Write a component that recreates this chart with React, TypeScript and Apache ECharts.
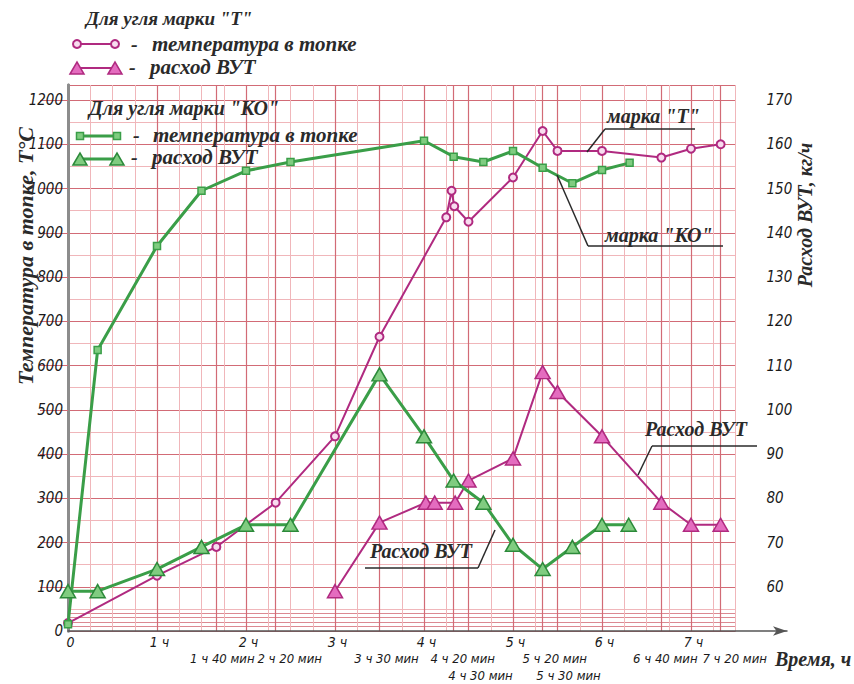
import React, { useEffect, useRef } from "react";
import * as echarts from "echarts";

// ---- data (time in hours) ----
const tempTTimes = [0, 1, 1.667, 2.333, 3, 3.5, 4.25, 4.31, 4.34, 4.5, 5, 5.333, 5.5, 6, 6.667, 7, 7.333];
const tempTValues = [18, 125, 190, 290, 440, 665, 935, 995, 960, 925, 1025, 1130, 1085, 1085, 1070, 1090, 1100];

const vutTTimes = [3, 3.5, 4.02, 4.12, 4.35, 4.5, 5, 5.333, 5.5, 6, 6.667, 7, 7.333];
const vutTValues = [59, 74.5, 79, 79, 79, 84, 89, 108.5, 104, 94, 79, 74, 74];

const tempKOTimes = [0, 0.333, 1, 1.5, 2, 2.5, 4, 4.333, 4.667, 5, 5.333, 5.667, 6, 6.31];
const tempKOValues = [15, 635, 870, 995, 1040, 1060, 1108, 1072, 1060, 1085, 1047, 1012, 1042, 1058];

const vutKOTimes = [0, 0.333, 1, 1.5, 2, 2.5, 3.5, 4, 4.333, 4.667, 5, 5.333, 5.667, 6, 6.3];
const vutKOValues = [59, 59, 64, 69, 74, 74, 108, 94, 84, 79, 69.5, 64, 69, 74, 74];

// ---- tick labels ----
const hourTicks = [0, 1, 2, 3, 4, 5, 6, 7];
const hourLabels = ["0", "1 ч", "2 ч", "3 ч", "4 ч", "5 ч", "6 ч", "7 ч"];
const row2Ticks = [1.6667, 2.3333, 3.5, 4.3333, 5.3333, 6.6667, 7.3333];
const row2Labels = ["1 ч 40 мин", "2 ч 20 мин", "3 ч 30 мин", "4 ч 20 мин", "5 ч 20 мин", "6 ч 40 мин", "7 ч 20 мин"];
const row3Ticks = [4.5, 5.5];
const row3Labels = ["4 ч 30 мин", "5 ч 30 мин"];
const bottomFineTicks = [10, 20, 30, 40];

// layout only: horizontal shift (px) of each time label off its tick
const row2Shift = [6, 14, 7, 9, 12, 4, 14];
const row3Shift = [12, 11];

const zip = (xs: number[], ys: number[]) => xs.map((x, i) => [x, ys[i]]);
const lookup = (ticks: number[], labels: string[]) => (v: number) => {
  const i = ticks.findIndex((t) => Math.abs(t - v) < 1e-3);
  return i >= 0 ? labels[i] : "";
};

const magenta = "#b02a80";
const pinkTri = "#e46cbf";
const green = "#3a9e48";
const greenFill = "#80cc80";
const gridLight = "#f0b6ba";
const gridDark = "#d26b76";
const axisGrey = "#8c8c8c";

const numFont = "'DejaVu Sans Condensed', 'Liberation Sans Narrow', sans-serif";
const serif = "'Liberation Serif', 'Times New Roman', serif";

const txt = (text: string, x: number, y: number, size = 17, extra: any = {}) => ({
  type: "text",
  x,
  y,
  style: {
    text,
    fill: "#2a2a2a",
    fontFamily: serif,
    fontStyle: "italic",
    fontWeight: "bold",
    fontSize: size,
    verticalAlign: "middle",
    ...extra,
  },
  z: 100,
});
const seg = (x1: number, y1: number, x2: number, y2: number, stroke = "#2a2a2a", lineWidth = 1.5) => ({
  type: "line",
  shape: { x1, y1, x2, y2 },
  style: { stroke, lineWidth },
  z: 100,
});
const tri = (x: number, y: number, fill: string, stroke: string) => ({
  type: "polygon",
  shape: { points: [[x - 7, y + 6], [x, y - 6], [x + 7, y + 6]] },
  style: { fill, stroke, lineWidth: 1.5 },
  z: 101,
});
const circ = (x: number, y: number) => ({
  type: "circle",
  shape: { cx: x, cy: y, r: 4 },
  style: { fill: "#f8dcef", stroke: magenta, lineWidth: 2 },
  z: 101,
});
const sq = (x: number, y: number) => ({
  type: "rect",
  shape: { x: x - 3.5, y: y - 3.5, width: 7, height: 7 },
  style: { fill: greenFill, stroke: green, lineWidth: 1.5 },
  z: 101,
});

const numLabel = {
  fontFamily: numFont,
  fontStyle: "italic",
  color: "#1a1a1a",
};

const labelAxis = (tick: number, label: string, margin: number, shift: number) => ({
  type: "value", gridIndex: 0, position: "bottom", min: 0, max: 7.5,
  axisLine: { show: false }, axisTick: { show: false, customValues: [tick] },
  axisLabel: {
    show: true, customValues: [tick], margin, formatter: () => label,
    showMinLabel: true, showMaxLabel: true, fontSize: 13, ...numLabel, padding: [0, 0, 0, shift * 2],
  },
  splitLine: { show: false },
});

export default function App() {
  const ref = useRef<HTMLDivElement>(null);
  useEffect(() => {
    if (!ref.current) return;
    const chart = echarts.init(ref.current, undefined, { renderer: "svg" });
    const option: any = {
      animation: false,
      backgroundColor: "#ffffff",
      grid: [
        { left: 68, top: 85, right: 118.5, bottom: 53 },
        { left: 68, top: 85, right: 67, bottom: 53 },
      ],
      xAxis: [
        {
          type: "value", gridIndex: 0, position: "bottom", min: 0, max: 7.5, interval: 0.25,
          axisLine: { show: false }, axisTick: { show: false }, axisLabel: { show: false },
          splitLine: { show: true, lineStyle: { color: gridLight, width: 1 } },
        },
        {
          type: "value", gridIndex: 0, position: "bottom", min: 0, max: 7.5,
          axisLine: { show: false },
          axisTick: { show: false, customValues: [...hourTicks, ...row2Ticks, ...row3Ticks] },
          axisLabel: {
            show: true, customValues: hourTicks, margin: 4, formatter: lookup(hourTicks, hourLabels),
            showMinLabel: true, showMaxLabel: true, fontSize: 14, ...numLabel, padding: [0, 0, 0, 5],
          },
          splitLine: { show: true, lineStyle: { color: gridDark, width: 1.2 } },
        },
        ...row2Ticks.map((t, i) => labelAxis(t, row2Labels[i], 21, row2Shift[i])),
        ...row3Ticks.map((t, i) => labelAxis(t, row3Labels[i], 38, row3Shift[i])),
        {
          type: "value", gridIndex: 1, position: "bottom", min: 0, max: 1,
          axisLine: { show: true, onZero: false, symbol: ["none", "arrow"], symbolSize: [7, 14], lineStyle: { color: "#555", width: 1.5 } },
          axisTick: { show: false }, axisLabel: { show: false }, splitLine: { show: false },
        },
      ],
      yAxis: [
        {
          type: "value", gridIndex: 0, position: "left", min: 0, max: 1234, interval: 50,
          axisLine: { show: false }, axisTick: { show: false }, axisLabel: { show: false },
          splitLine: { show: true, lineStyle: { color: gridLight, width: 1 } },
        },
        {
          type: "value", gridIndex: 0, position: "left", min: 0, max: 1234, interval: 100,
          axisLine: { show: true, lineStyle: { color: axisGrey, width: 3 } },
          axisTick: { show: false },
          axisLabel: {
            show: true, showMaxLabel: false, margin: 5, fontSize: 15, ...numLabel,
            formatter: (v: number) => String(v),
          },
          splitLine: { show: true, lineStyle: { color: gridDark, width: 1 } },
        },
        {
          type: "value", gridIndex: 0, position: "left", min: 0, max: 1234,
          axisLine: { show: false }, axisTick: { show: false, customValues: bottomFineTicks }, axisLabel: { show: false },
          splitLine: { show: true, lineStyle: { color: gridDark, width: 0.8 } },
        },
        {
          type: "value", gridIndex: 0, position: "right", offset: 28, min: 50, max: 173.4, interval: 10,
          axisLine: { show: true, lineStyle: { color: axisGrey, width: 3 } },
          axisTick: { show: true, inside: true, length: 28, lineStyle: { color: gridDark, width: 1 } },
          axisLabel: {
            show: true, showMinLabel: false, showMaxLabel: false, margin: 3, fontSize: 15, ...numLabel,
            formatter: (v: number) => String(v),
          },
          splitLine: { show: false },
        },
        { type: "value", gridIndex: 1, show: false, min: 0, max: 1 },
      ],
      series: [
        {
          name: "температура T", type: "line", xAxisIndex: 0, yAxisIndex: 1,
          data: zip(tempTTimes, tempTValues),
          symbol: "circle", symbolSize: 8,
          lineStyle: { color: magenta, width: 2 },
          itemStyle: { color: "#f8dcef", borderColor: magenta, borderWidth: 2 },
          z: 3,
        },
        {
          name: "расход T", type: "line", xAxisIndex: 0, yAxisIndex: 3,
          data: zip(vutTTimes, vutTValues),
          symbol: "triangle", symbolSize: [15, 13],
          lineStyle: { color: magenta, width: 2 },
          itemStyle: { color: pinkTri, borderColor: magenta, borderWidth: 1.5 },
          z: 3,
        },
        {
          name: "температура KO", type: "line", xAxisIndex: 0, yAxisIndex: 1,
          data: zip(tempKOTimes, tempKOValues),
          symbol: "rect", symbolSize: 7,
          lineStyle: { color: green, width: 3 },
          itemStyle: { color: greenFill, borderColor: green, borderWidth: 1.5 },
          z: 4,
        },
        {
          name: "расход KO", type: "line", xAxisIndex: 0, yAxisIndex: 3,
          data: zip(vutKOTimes, vutKOValues),
          symbol: "triangle", symbolSize: [15, 13],
          lineStyle: { color: green, width: 3 },
          itemStyle: { color: greenFill, borderColor: "#2c8a3a", borderWidth: 1.5 },
          z: 4,
        },
      ],
      graphic: [
        // legend "Т"
        txt('Для угля марки "Т"', 86, 18, 19),
        seg(77, 44, 115, 44, magenta, 2), circ(77, 44), circ(115, 44),
        txt("-", 131, 44, 20), txt("температура в топке", 152, 44, 21),
        seg(77, 68, 115, 68, magenta, 2), tri(77, 68, pinkTri, magenta), tri(115, 68, pinkTri, magenta),
        txt("-", 129, 67, 20), txt("расход ВУТ", 150, 67, 21),
        // legend "КО"
        txt('Для угля марки "КО"', 89, 108, 20),
        seg(80, 136, 117, 136, green, 3), sq(80, 136), sq(117, 136),
        txt("-", 133, 135, 20), txt("температура в топке", 153, 135, 21),
        seg(80, 159, 117, 159, green, 3), tri(80, 159, greenFill, "#2c8a3a"), tri(117, 159, greenFill, "#2c8a3a"),
        txt("-", 131, 157, 20), txt("расход ВУТ", 152, 157, 21),
        // annotations
        txt('марка "Т"', 607, 116, 20), seg(605, 129, 695, 129), seg(605, 129, 587, 152),
        txt('марка "КО"', 605, 235, 20), seg(588, 246, 723, 246), seg(588, 246, 557, 175),
        txt("Расход ВУТ", 645, 429, 20), seg(652, 446, 757, 446), seg(652, 446, 638, 475),
        txt("Расход ВУТ", 370, 551, 20), seg(365, 568, 478, 568), seg(478, 568, 495, 530),
        // axis names
        {
          type: "text", x: 25, y: 256, rotation: Math.PI / 2,
          style: { text: "Температура в топке, Т°С", fill: "#2a2a2a", fontFamily: serif, fontStyle: "italic", fontWeight: "bold", fontSize: 22, align: "center", verticalAlign: "middle" },
          z: 100,
        },
        {
          type: "text", x: 805, y: 215, rotation: Math.PI / 2,
          style: { text: "Расход ВУТ, кг/ч", fill: "#2a2a2a", fontFamily: serif, fontStyle: "italic", fontWeight: "bold", fontSize: 20, align: "center", verticalAlign: "middle" },
          z: 100,
        },
        txt("Время, ч", 775, 659, 20),
      ],
    };
    chart.setOption(option);
    return () => chart.dispose();
  }, []);
  return <div ref={ref} style={{ position: "fixed", left: 0, top: 0, width: 854, height: 684 }} />;
}
